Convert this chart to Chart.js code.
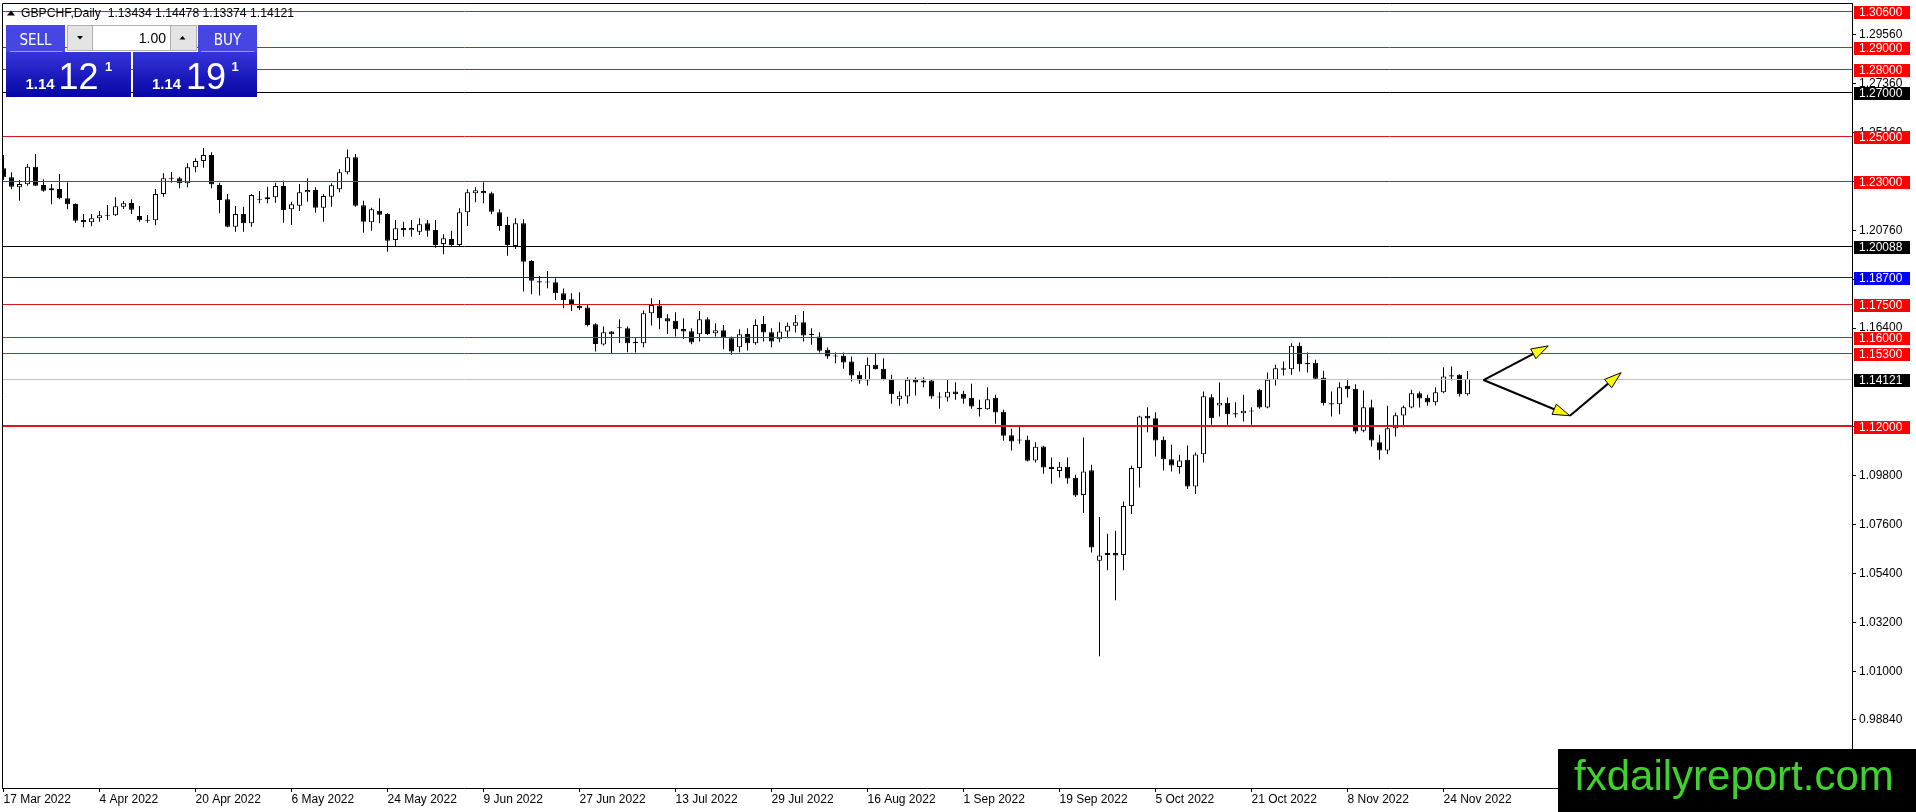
<!DOCTYPE html>
<html>
<head>
<meta charset="utf-8">
<title>GBPCHF, Daily</title>
<script src="https://cdn.jsdelivr.net/npm/chart.js@4.4.1/dist/chart.umd.min.js"></script>
<style>
  html, body { margin: 0; padding: 0; background: #fff; }
  #wrap { position: relative; width: 1916px; height: 812px; }
</style>
</head>
<body>
<div id="wrap"><canvas id="chart"></canvas></div>
<script>
const symbolName = "GBPCHF,Daily";

// daily candles, 17 Mar 2022 .. 29 Nov 2022
const opens = [
  1.23558, 1.23155, 1.22707, 1.22841, 1.23633, 1.22811, 1.22573, 1.22632, 1.22214, 1.21960,
  1.21244, 1.21139, 1.21318, 1.21438, 1.21453, 1.21841, 1.22005, 1.21423, 1.21244, 1.21229,
  1.22408, 1.23095, 1.23110, 1.22886, 1.23603, 1.23886, 1.24155, 1.22811, 1.22169, 1.20945,
  1.21513, 1.21094, 1.22155, 1.22169, 1.22259, 1.22767, 1.21722, 1.21886, 1.22483, 1.22587,
  1.21796, 1.22289, 1.22617, 1.23379, 1.24051, 1.21901, 1.21139, 1.21662, 1.21513, 1.20348,
  1.20885, 1.20781, 1.20721, 1.21094, 1.20796, 1.20169, 1.20393, 1.20124, 1.21587, 1.22438,
  1.22542, 1.22438, 1.21587, 1.21020, 1.20079, 1.21094, 1.19407, 1.18496, 1.18437, 1.18452,
  1.17959, 1.17690, 1.17392, 1.17317, 1.16570, 1.15660, 1.16242, 1.16391, 1.16391, 1.15730,
  1.15721, 1.17065, 1.17408, 1.16841, 1.16722, 1.16363, 1.16259, 1.16124, 1.16796, 1.16169,
  1.16303, 1.15945, 1.15542, 1.16139, 1.15721, 1.16587, 1.16214, 1.15900, 1.16244, 1.16498,
  1.16662, 1.16124, 1.16020, 1.15423, 1.15124, 1.15154, 1.14900, 1.14302, 1.14049, 1.14750,
  1.14571, 1.14123, 1.13213, 1.13332, 1.14078, 1.14049, 1.14049, 1.13287, 1.13287, 1.13556,
  1.13451, 1.13272, 1.12824, 1.12765, 1.13272, 1.12645, 1.11600, 1.11361, 1.11391, 1.10465,
  1.11092, 1.10182, 1.09988, 1.10182, 1.09689, 1.08913, 1.10032, 1.05972, 1.06225, 1.06315,
  1.06225, 1.08420, 1.10122, 1.12466, 1.12362, 1.11391, 1.10525, 1.10167, 1.10495, 1.09301,
  1.10749, 1.13302, 1.12929, 1.13048, 1.12585, 1.12585, 1.12660, 1.13631, 1.12839, 1.14079,
  1.14601, 1.14556, 1.15602, 1.14840, 1.14840, 1.14168, 1.13033, 1.12989, 1.13810, 1.13676,
  1.11794, 1.12854, 1.11287, 1.10913, 1.11914, 1.12481, 1.12839, 1.13481, 1.13272, 1.13078,
  1.13526, 1.14288, 1.14303, 1.13434
];
const highs = [
  1.24155, 1.23379, 1.23035, 1.23752, 1.24200, 1.23065, 1.22856, 1.23304, 1.22931, 1.21990,
  1.21513, 1.21513, 1.21647, 1.21916, 1.22259, 1.22095, 1.22169, 1.21871, 1.21468, 1.22632,
  1.23334, 1.23394, 1.23185, 1.23782, 1.24006, 1.24469, 1.24275, 1.22916, 1.22408, 1.21871,
  1.21841, 1.22408, 1.22543, 1.22737, 1.22916, 1.23006, 1.22065, 1.22856, 1.23110, 1.22707,
  1.22408, 1.22886, 1.23513, 1.24409, 1.24200, 1.22110, 1.21796, 1.22214, 1.21542, 1.21244,
  1.21169, 1.21244, 1.21318, 1.21244, 1.21243, 1.20602, 1.20766, 1.21766, 1.22617, 1.22707,
  1.22931, 1.22513, 1.21721, 1.21393, 1.21318, 1.21273, 1.19452, 1.18735, 1.18959, 1.18631,
  1.18168, 1.17959, 1.18004, 1.17436, 1.16615, 1.16466, 1.16272, 1.16794, 1.16466, 1.16000,
  1.17184, 1.17737, 1.17662, 1.17020, 1.17110, 1.16841, 1.16393, 1.17169, 1.16886, 1.16617,
  1.16542, 1.16020, 1.16348, 1.16393, 1.16796, 1.16945, 1.16393, 1.16662, 1.16647, 1.16990,
  1.17169, 1.16393, 1.16214, 1.15527, 1.15303, 1.15303, 1.15124, 1.14452, 1.15079, 1.15243,
  1.15049, 1.14302, 1.13556, 1.14198, 1.14183, 1.14183, 1.14078, 1.13526, 1.14078, 1.13974,
  1.13586, 1.13899, 1.13183, 1.13750, 1.13407, 1.12735, 1.11884, 1.12018, 1.11570, 1.11287,
  1.11122, 1.10600, 1.10391, 1.10600, 1.09823, 1.11496, 1.10271, 1.07927, 1.07181, 1.07315,
  1.08629, 1.10227, 1.12466, 1.12854, 1.12630, 1.11540, 1.11167, 1.10719, 1.11137, 1.10824,
  1.13556, 1.13437, 1.13959, 1.13287, 1.13078, 1.13407, 1.12854, 1.13676, 1.14407, 1.14750,
  1.14900, 1.15721, 1.15751, 1.15303, 1.14974, 1.14482, 1.13556, 1.13974, 1.14123, 1.13885,
  1.13601, 1.13183, 1.11615, 1.12914, 1.12615, 1.12929, 1.13631, 1.13556, 1.13407, 1.13750,
  1.14646, 1.14676, 1.14332, 1.14478
];
const lows = [
  1.23035, 1.22617, 1.22110, 1.22782, 1.22767, 1.22513, 1.21946, 1.22169, 1.21722, 1.21124,
  1.20915, 1.20960, 1.21169, 1.21244, 1.21423, 1.21737, 1.21513, 1.21169, 1.21124, 1.21005,
  1.22289, 1.22916, 1.22662, 1.22707, 1.23379, 1.23588, 1.22662, 1.21542, 1.20915, 1.20721,
  1.20721, 1.20945, 1.21990, 1.21990, 1.22020, 1.21124, 1.21020, 1.21647, 1.22065, 1.21572,
  1.21169, 1.21841, 1.22483, 1.23289, 1.21841, 1.20676, 1.20766, 1.21094, 1.19825, 1.20079,
  1.20497, 1.20497, 1.20572, 1.20497, 1.20004, 1.19706, 1.20079, 1.20049, 1.20975, 1.22035,
  1.21990, 1.21497, 1.20766, 1.19646, 1.19945, 1.18034, 1.17914, 1.17854, 1.18183, 1.17660,
  1.17287, 1.17168, 1.17212, 1.16466, 1.15346, 1.15615, 1.15271, 1.15734, 1.15316, 1.15300,
  1.15542, 1.16513, 1.16348, 1.16139, 1.16020, 1.15915, 1.15676, 1.15796, 1.16094, 1.16020,
  1.15452, 1.15199, 1.15318, 1.15393, 1.15647, 1.15796, 1.15542, 1.15766, 1.15945, 1.16199,
  1.15796, 1.15647, 1.15303, 1.15020, 1.14825, 1.14572, 1.14004, 1.13899, 1.13825, 1.14540,
  1.14049, 1.13004, 1.12914, 1.13004, 1.13377, 1.13750, 1.13228, 1.12780, 1.13108, 1.13183,
  1.13004, 1.12780, 1.12436, 1.12735, 1.12108, 1.11346, 1.10913, 1.11212, 1.10421, 1.10376,
  1.09868, 1.09420, 1.09704, 1.09420, 1.08823, 1.08106, 1.06345, 1.01687, 1.05539, 1.04195,
  1.05539, 1.08062, 1.09256, 1.11735, 1.10645, 1.10018, 1.09973, 1.09868, 1.09181, 1.08958,
  1.10376, 1.12063, 1.12436, 1.12063, 1.12391, 1.12212, 1.12063, 1.12780, 1.12810, 1.13825,
  1.14273, 1.14303, 1.14452, 1.14407, 1.14108, 1.12929, 1.12436, 1.12541, 1.13287, 1.11660,
  1.11735, 1.11093, 1.10495, 1.10749, 1.11540, 1.11958, 1.12810, 1.12839, 1.12914, 1.12929,
  1.13481, 1.14049, 1.13332, 1.13374
];
const closes = [
  1.23155, 1.22737, 1.22856, 1.23633, 1.22782, 1.22558, 1.22662, 1.22214, 1.21946, 1.21214,
  1.21139, 1.21318, 1.21453, 1.21468, 1.21856, 1.21990, 1.21707, 1.21229, 1.21214, 1.22408,
  1.23110, 1.23125, 1.22886, 1.23603, 1.23886, 1.24155, 1.22841, 1.22140, 1.20945, 1.21513,
  1.21094, 1.22364, 1.22184, 1.22259, 1.22767, 1.21692, 1.21946, 1.22483, 1.22587, 1.21796,
  1.22319, 1.22797, 1.23379, 1.24051, 1.21886, 1.21169, 1.21722, 1.21483, 1.20318, 1.20871,
  1.20781, 1.20885, 1.21050, 1.20766, 1.20124, 1.20422, 1.20124, 1.21587, 1.22483, 1.22572,
  1.22438, 1.21617, 1.20975, 1.20124, 1.21094, 1.19377, 1.18526, 1.18437, 1.18467, 1.17959,
  1.17660, 1.17436, 1.17287, 1.16541, 1.15690, 1.16212, 1.16123, 1.16421, 1.15719, 1.15750,
  1.17065, 1.17438, 1.16841, 1.16692, 1.16348, 1.16244, 1.15751, 1.16796, 1.16139, 1.16303,
  1.15990, 1.15348, 1.16124, 1.15721, 1.16542, 1.16199, 1.15796, 1.16244, 1.16498, 1.16662,
  1.16065, 1.16094, 1.15378, 1.15124, 1.15154, 1.14855, 1.14273, 1.14049, 1.14750, 1.14556,
  1.14078, 1.13437, 1.13362, 1.14078, 1.13959, 1.13959, 1.13332, 1.13317, 1.13541, 1.13437,
  1.13228, 1.12884, 1.12765, 1.13213, 1.12615, 1.11570, 1.11316, 1.11391, 1.10451, 1.11078,
  1.10152, 1.10077, 1.10182, 1.09659, 1.08898, 1.09973, 1.06569, 1.06210, 1.06315, 1.06210,
  1.08420, 1.10122, 1.12436, 1.12347, 1.11361, 1.10525, 1.10242, 1.10465, 1.09301, 1.10734,
  1.13347, 1.12362, 1.13048, 1.12541, 1.12526, 1.12690, 1.12690, 1.12839, 1.14079, 1.14601,
  1.14526, 1.15602, 1.14780, 1.14780, 1.14123, 1.13033, 1.12974, 1.13750, 1.13661, 1.11764,
  1.12854, 1.11361, 1.10913, 1.11914, 1.12496, 1.12854, 1.13481, 1.13243, 1.13063, 1.13526,
  1.14228, 1.14228, 1.13437, 1.14121
];

// x axis: one label every 12 bars
const dateTicks = [
  "17 Mar 2022", "4 Apr 2022", "20 Apr 2022", "6 May 2022", "24 May 2022", "9 Jun 2022",
  "27 Jun 2022", "13 Jul 2022", "29 Jul 2022", "16 Aug 2022", "1 Sep 2022", "19 Sep 2022",
  "5 Oct 2022", "21 Oct 2022", "8 Nov 2022", "24 Nov 2022"
];
const barsPerLabel = 12;

// y axis ticks as the terminal prints them
const priceTicks = [1.2956, 1.2736, 1.2516, 1.2296, 1.2076, 1.1856, 1.164,
  1.12, 1.098, 1.076, 1.054, 1.032, 1.01, 0.9884];

// horizontal levels
const redLevels = [1.306, 1.29, 1.28, 1.25, 1.23, 1.175, 1.16, 1.153];
const blackLevels = [1.27, 1.20088];
const blueLevels = [1.187];
const keyLevels = [1.12];
const bidPrice = 1.14121;
const askPrice = 1.14191;
const lotSize = "1.00";

// drawn arrows: [bar, price] pairs
const arrowLegs = [
  [[185.0, 1.1407], [193.1, 1.1560]],
  [[185.0, 1.1407], [195.8, 1.1247]],
  [[195.8, 1.1247], [202.2, 1.1440]]
];

const watermark = "fxdailyreport.com";

const axisFont = '12px "Liberation Sans", Arial, sans-serif';
const narrowFont = '"DejaVu Sans Condensed", "Liberation Sans Narrow", "Liberation Sans", sans-serif';

const wickData = opens.map((o, i) => ({ x: i, y: [lows[i], highs[i]] }));
const bodyData = opens.map((o, i) => ({ x: i, y: [o, closes[i]] }));
const bodyFill = opens.map((o, i) => (closes[i] > o ? "#ffffff" : "#000000"));

function arrow(ctx, x1, y1, x2, y2) {
  const ang = Math.atan2(y2 - y1, x2 - x1);
  const len = 17, half = 5.5;
  const bx = x2 - Math.cos(ang) * len;
  const by = y2 - Math.sin(ang) * len;
  ctx.beginPath();
  ctx.moveTo(x1, y1);
  ctx.lineTo(bx, by);
  ctx.strokeStyle = "#000";
  ctx.lineWidth = 2;
  ctx.stroke();
  ctx.beginPath();
  ctx.moveTo(x2, y2);
  ctx.lineTo(bx + Math.sin(ang) * half, by - Math.cos(ang) * half);
  ctx.lineTo(bx - Math.sin(ang) * half, by + Math.cos(ang) * half);
  ctx.closePath();
  ctx.fillStyle = "#ffff00";
  ctx.fill();
  ctx.lineWidth = 1;
  ctx.stroke();
}

function priceParts(p) {
  const s = p.toFixed(5);
  return [s.slice(0, 4), s.slice(4, 6), s.slice(6)];
}

function drawPanel(ctx) {
  // top buttons
  ctx.fillStyle = "#4646e2";
  ctx.fillRect(6, 25, 59, 27);
  ctx.fillRect(198, 25, 59, 27);
  // price boxes
  const g = ctx.createLinearGradient(0, 52, 0, 97);
  g.addColorStop(0, "#3434da");
  g.addColorStop(1, "#0606a4");
  ctx.fillStyle = g;
  ctx.fillRect(6, 52, 125, 45);
  ctx.fillRect(133, 52, 124, 45);
  ctx.strokeStyle = "#9a9af2";
  ctx.lineWidth = 1;
  ctx.beginPath();
  ctx.moveTo(10, 51.5); ctx.lineTo(62, 51.5);
  ctx.moveTo(201, 51.5); ctx.lineTo(254, 51.5);
  ctx.stroke();

  // lot spinner
  ctx.fillStyle = "#e4e4e4";
  ctx.fillRect(67, 25, 130, 26);
  ctx.fillStyle = "#ffffff";
  ctx.fillRect(93, 26, 77, 24);
  ctx.strokeStyle = "#b0b0b0";
  ctx.strokeRect(67.5, 25.5, 129, 25);
  ctx.beginPath();
  ctx.moveTo(92.5, 26); ctx.lineTo(92.5, 50);
  ctx.moveTo(170.5, 26); ctx.lineTo(170.5, 50);
  ctx.stroke();
  ctx.fillStyle = "#000";
  ctx.beginPath();
  ctx.moveTo(77, 36); ctx.lineTo(83, 36); ctx.lineTo(80, 39.5); ctx.closePath(); ctx.fill();
  ctx.beginPath();
  ctx.moveTo(179.5, 39.5); ctx.lineTo(185.5, 39.5); ctx.lineTo(182.5, 36); ctx.closePath(); ctx.fill();
  ctx.font = '14px "Liberation Sans", Arial, sans-serif';
  ctx.textAlign = "right";
  ctx.textBaseline = "alphabetic";
  ctx.fillText(lotSize, 166, 43);

  // button captions
  ctx.fillStyle = "#ffffff";
  ctx.textAlign = "center";
  ctx.font = "15px " + narrowFont;
  ctx.fillText("SELL", 35.5, 44.5);
  ctx.fillText("BUY", 227.5, 44.5);

  // prices
  const boxes = [[bidPrice, 25.5, 58.5, 105], [askPrice, 152, 186, 231.5]];
  ctx.textAlign = "left";
  boxes.forEach(([p, x1, x2, x3]) => {
    const [big, pips, frac] = priceParts(p);
    ctx.font = 'bold 15px "Liberation Sans", Arial, sans-serif';
    ctx.fillText(big, x1, 88.5);
    ctx.font = '36px "Liberation Sans", Arial, sans-serif';
    ctx.fillText(pips, x2, 88.5);
    ctx.font = 'bold 13px "Liberation Sans", Arial, sans-serif';
    ctx.fillText(frac, x3, 71);
  });
}

const overlay = {
  id: "mt4Overlay",
  afterDatasetsDraw(chart) {
    const { ctx, chartArea: a, scales: { x, y } } = chart;
    ctx.save();
    ctx.beginPath();
    ctx.rect(a.left, a.top, a.right - a.left, a.bottom - a.top);
    ctx.clip();
    const hline = (v, color, width) => {
      const py = Math.round(y.getPixelForValue(v)) + (width % 2 ? 0.5 : 0);
      ctx.beginPath();
      ctx.moveTo(a.left, py);
      ctx.lineTo(a.right, py);
      ctx.strokeStyle = color;
      ctx.lineWidth = width;
      ctx.stroke();
    };
    hline(bidPrice, "#c0c0c0", 1);
    redLevels.forEach(v => hline(v, "#d41a1a", 1));
    blueLevels.forEach(v => hline(v, "#1010c8", 1));
    blackLevels.forEach(v => hline(v, "#000000", 1));
    keyLevels.forEach(v => hline(v, "#d41a1a", 2));

    arrowLegs.forEach(([p1, p2]) => {
      arrow(ctx,
        x.getPixelForValue(p1[0]), y.getPixelForValue(p1[1]),
        x.getPixelForValue(p2[0]), y.getPixelForValue(p2[1]));
    });
    ctx.restore();
  },
  afterDraw(chart) {
    const { ctx, chartArea: a, scales: { y } } = chart;
    ctx.save();
    // frame
    ctx.strokeStyle = "#000";
    ctx.lineWidth = 1;
    ctx.beginPath();
    ctx.moveTo(a.left + 0.5, a.bottom);
    ctx.lineTo(a.left + 0.5, a.top + 0.5);
    ctx.lineTo(a.right, a.top + 0.5);
    ctx.stroke();

    // level tags on the price scale
    const tag = (v, bg) => {
      const py = Math.round(y.getPixelForValue(v));
      ctx.fillStyle = bg;
      ctx.fillRect(a.right + 2, py - 5, 56, 13);
      ctx.fillStyle = "#ffffff";
      ctx.font = axisFont;
      ctx.textAlign = "left";
      ctx.textBaseline = "middle";
      ctx.fillText(v.toFixed(5), a.right + 7, py + 1.5);
    };
    redLevels.forEach(v => tag(v, "#ff0000"));
    blueLevels.forEach(v => tag(v, "#0000ff"));
    blackLevels.forEach(v => tag(v, "#000000"));
    keyLevels.forEach(v => tag(v, "#ff0000"));
    tag(bidPrice, "#000000");

    // header line
    const last = opens.length - 1;
    ctx.fillStyle = "#000";
    ctx.beginPath();
    ctx.moveTo(7, 15.5); ctx.lineTo(15, 15.5); ctx.lineTo(11, 10.5); ctx.closePath(); ctx.fill();
    ctx.font = '12.2px "Liberation Sans", Arial, sans-serif';
    ctx.textAlign = "left";
    ctx.textBaseline = "alphabetic";
    ctx.fillText(symbolName + "  " + [opens[last], highs[last], lows[last], closes[last]]
      .map(v => v.toFixed(5)).join(" "), 21, 17);

    drawPanel(ctx);

    // watermark
    ctx.fillStyle = "#000";
    ctx.fillRect(1558, 749, 358, 63);
    ctx.fillStyle = "#3fd22e";
    ctx.font = '42px "Liberation Sans", Arial, sans-serif';
    ctx.textAlign = "left";
    ctx.textBaseline = "alphabetic";
    ctx.fillText(watermark, 1574, 790);
    ctx.restore();
  }
};

const xMin = -0.1875;
const pxPerBar = 8;

new Chart(document.getElementById("chart"), {
  type: "bar",
  data: {
    datasets: [
      {
        label: "bodies",
        data: bodyData,
        backgroundColor: bodyFill,
        borderColor: "#000",
        borderWidth: 1,
        borderSkipped: false,
        barThickness: 5,
        minBarLength: 1,
        inflateAmount: 0,
        grouped: false,
        order: 1
      },
      {
        label: "wicks",
        data: wickData,
        backgroundColor: "#000",
        borderWidth: 0,
        barThickness: 1,
        inflateAmount: 0,
        grouped: false,
        order: 2
      }
    ]
  },
  options: {
    animation: false,
    responsive: true,
    maintainAspectRatio: false,
    devicePixelRatio: 1,
    events: [],
    layout: { padding: { left: 2, top: 3, right: 0, bottom: 0 } },
    plugins: {
      legend: { display: false },
      tooltip: { enabled: false }
    },
    scales: {
      x: {
        type: "linear",
        min: xMin,
        max: xMin + 1850 / pxPerBar,
        offset: false,
        grid: { display: true, drawOnChartArea: false, drawTicks: true, tickLength: 4, color: "#000", offset: false },
        border: { display: true, color: "#000", width: 1 },
        ticks: {
          autoSkip: false,
          maxRotation: 0,
          minRotation: 0,
          align: "start",
          padding: 0,
          color: "#000",
          font: { family: '"Liberation Sans", Arial, sans-serif', size: 12 },
          callback: (v, i) => dateTicks[i]
        },
        afterBuildTicks: scale => {
          scale.ticks = dateTicks.map((d, k) => ({ value: k * barsPerLabel }));
        },
        afterFit: scale => {
          scale.height = 24;
          scale.paddingLeft = 0;
          scale.paddingRight = 0;
        }
      },
      y: {
        type: "linear",
        position: "right",
        min: 0.95784,
        max: 1.30970,
        beginAtZero: false,
        grid: { display: true, drawOnChartArea: false, drawTicks: true, tickLength: 4, color: "#000" },
        border: { display: true, color: "#000", width: 1 },
        ticks: {
          padding: 3,
          color: "#000",
          font: { family: '"Liberation Sans", Arial, sans-serif', size: 12 },
          callback: v => v.toFixed(5)
        },
        afterBuildTicks: scale => {
          scale.ticks = priceTicks.map(v => ({ value: v }));
        },
        afterFit: scale => {
          scale.width = 64;
          scale.paddingTop = 0;
          scale.paddingBottom = 0;
        }
      }
    }
  },
  plugins: [overlay]
});
</script>
</body>
</html>
